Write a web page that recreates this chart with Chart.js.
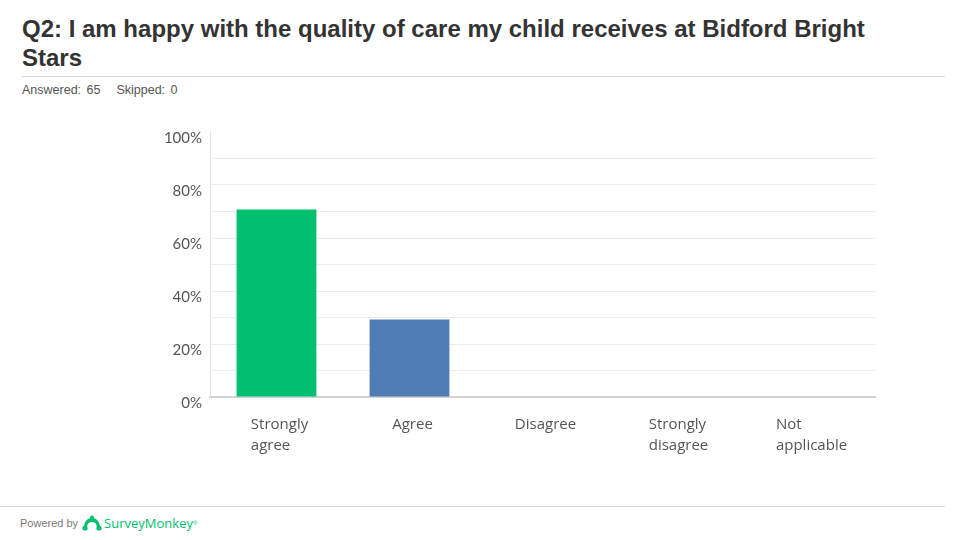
<!DOCTYPE html>
<html>
<head>
<meta charset="utf-8">
<script src="https://cdn.jsdelivr.net/npm/chart.js@4.4.1/dist/chart.umd.min.js"></script>
<style>
  html, body { margin: 0; padding: 0; background: #fff; }
  body { width: 960px; height: 540px; position: relative; overflow: hidden; font-family: "Liberation Sans", Arial, sans-serif; }
  #title { position: absolute; left: 22px; top: 14px; width: 930px; font-size: 24px; font-weight: bold; color: #333; line-height: 29px; }
  #rule { position: absolute; left: 22px; top: 76px; width: 923px; height: 1px; background: #d6d6d6; }
  #meta { position: absolute; left: 22px; top: 83px; font-size: 12.5px; color: #555; word-spacing: 2px; }
  #meta span + span { margin-left: 16px; }
  #chartBox { position: absolute; left: 140px; top: 115px; width: 740px; height: 352px; }
  #footRule { position: absolute; left: 0; top: 506px; width: 945px; height: 1px; background: #d6d6d6; }
  #foot { position: absolute; left: 20px; top: 514px; font-size: 11px; color: #777; display: flex; align-items: center; }
  #foot .brand { color: #00bf6f; font-size: 13px; font-family: "Open Sans", sans-serif; margin-left: 2px; }
  #foot svg { margin-left: 4px; }
</style>
</head>
<body>
<div id="title">Q2: I am happy with the quality of care my child receives at Bidford Bright<br>Stars</div>
<div id="rule"></div>
<div id="meta"><span>Answered: 65</span><span>Skipped: 0</span></div>
<div id="chartBox"><canvas id="grafico"></canvas></div>
<div id="footRule"></div>
<div id="foot">Powered by
  <svg width="20" height="16" viewBox="0 0 20 16">
    <path d="M2 13 C2 6 6 3 10 3 C14 3 18 6 18 13 L15 13 C15 9 13 7 10 7 C7 7 5 9 5 13 Z" fill="#00bf6f"/>
    <circle cx="3" cy="13" r="2.6" fill="#00bf6f"/>
    <circle cx="17" cy="13" r="2.6" fill="#00bf6f"/>
    <circle cx="10" cy="2.5" r="2" fill="#00bf6f"/>
  </svg>
  <span class="brand">SurveyMonkey</span><span style="color:#00bf6f;font-size:6px;vertical-align:top;">&reg;</span>
</div>
<script>
// ========== DADOS ==========
const categorias = [['Strongly', 'agree'], ['Agree'], ['Disagree'], ['Strongly', 'disagree'], ['Not', 'applicable']];
const percentuais = [70.77, 29.23, 0, 0, 0];
const ticksY = [0, 20, 40, 60, 80, 100];

// rótulos do eixo x alinhados à esquerda dentro do bloco
const rotulosX = {
  id: 'rotulosX',
  afterDraw(chart) {
    const ctx = chart.ctx;
    const escala = chart.scales.x;
    const base = chart.chartArea.bottom;
    ctx.save();
    ctx.font = '15px "Open Sans", sans-serif';
    ctx.fillStyle = '#555';
    ctx.textAlign = 'left';
    ctx.textBaseline = 'top';
    categorias.forEach((linhas, i) => {
      const larg = Math.max(...linhas.map(l => ctx.measureText(l).width));
      const x = escala.getPixelForTick(i) - larg / 2 + 3;
      linhas.forEach((l, k) => ctx.fillText(l, x, base + 20 + k * 21));
    });
    ctx.restore();
  }
};

new Chart(document.getElementById('grafico'), {
  type: 'bar',
  data: {
    labels: categorias,
    datasets: [{
      data: percentuais,
      backgroundColor: ['#00bf6f', '#507cb6', '#507cb6', '#507cb6', '#507cb6'],
      barPercentage: 0.6,
      categoryPercentage: 1
    }]
  },
  options: {
    responsive: true,
    maintainAspectRatio: false,
    animation: false,
    layout: { padding: { top: 5, right: 5, left: 0, bottom: 0 } },
    plugins: { legend: { display: false }, tooltip: { enabled: false } },
    scales: {
      x: {
        grid: { display: false },
        border: { color: '#d2d2d2', width: 2 },
        ticks: { display: false },
        afterFit: s => { s.height = 70; }
      },
      y: {
        min: 0,
        max: 100,
        afterFit: s => { s.width = 70; },
        border: { color: '#e2e2e2', width: 1 },
        grid: {
          drawTicks: false,
          color: c => (c.tick && (c.tick.value === 100 || c.tick.value === 0)) ? 'rgba(0,0,0,0)' : '#ececec'
        },
        ticks: {
          stepSize: 10,
          autoSkip: false,
          padding: 8,
          labelOffset: 6,
          color: '#555',
          font: { family: 'Lato, sans-serif', size: 15 },
          callback: v => ticksY.includes(v) ? v + '%' : ''
        }
      }
    }
  },
  plugins: [rotulosX]
});
</script>
</body>
</html>
